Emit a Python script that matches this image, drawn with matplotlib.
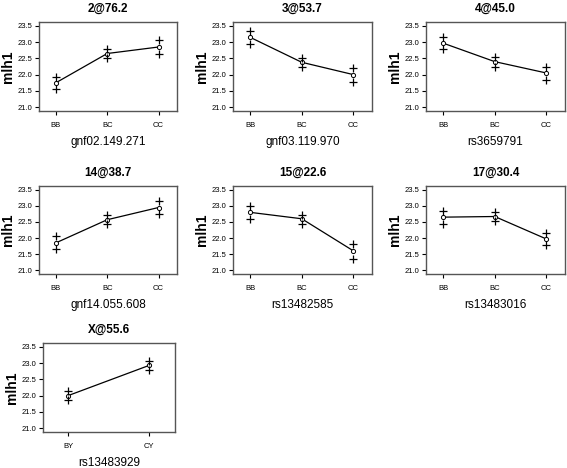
import matplotlib
matplotlib.use("Agg")
import matplotlib.pyplot as plt

plt.rcParams["font.family"] = ["Liberation Sans Narrow", "Liberation Sans", "DejaVu Sans"]

W, H = 567, 468

titles = ["2@76.2", "3@53.7", "4@45.0", "14@38.7", "15@22.6", "17@30.4", "X@55.6"]
markers = ["gnf02.149.271", "gnf03.119.970", "rs3659791",
           "gnf14.055.608", "rs13482585", "rs13483016", "rs13483929"]
genotypes = [["BB", "BC", "CC"]] * 6 + [["BY", "CY"]]

means = [
    [21.75, 22.65, 22.85],
    [23.15, 22.38, 22.00],
    [22.97, 22.40, 22.05],
    [21.85, 22.57, 22.95],
    [22.80, 22.60, 21.60],
    [22.65, 22.67, 21.97],
    [22.00, 22.93],
]
upper = [
    [21.93, 22.80, 23.07],
    [23.35, 22.52, 22.20],
    [23.17, 22.55, 22.25],
    [22.05, 22.72, 23.15],
    [23.00, 22.73, 21.82],
    [22.85, 22.82, 22.15],
    [22.15, 23.08],
]
lower = [
    [21.55, 22.52, 22.65],
    [22.95, 22.25, 21.78],
    [22.78, 22.25, 21.83],
    [21.65, 22.43, 22.75],
    [22.60, 22.45, 21.36],
    [22.45, 22.52, 21.77],
    [21.85, 22.80],
]

# panel boxes in pixels: left, right, top, bottom
boxes = [
    (39, 177, 22, 111), (233, 372, 22, 111), (426, 565, 22, 111),
    (39, 177, 186, 274), (233, 372, 186, 274), (426, 565, 186, 274),
    (43, 175, 343, 432),
]

fig = plt.figure(figsize=(W / 100, H / 100), dpi=100)

for i in range(len(titles)):
    l, r, t, b = boxes[i]
    ax = fig.add_axes([l / W, 1 - b / H, (r - l) / W, (b - t) / H])
    n = len(genotypes[i])
    x = list(range(1, n + 1))
    ax.plot(x, means[i], color="black", lw=0.9)
    ax.plot(x, means[i], "o", ms=3.0, mfc="white", mec="black", mew=0.7)
    ax.plot(x, upper[i], "+", ms=5.5, color="black", mew=0.9)
    ax.plot(x, lower[i], "+", ms=5.5, color="black", mew=0.9)
    if n == 3:
        ax.set_xlim(0.67, 3.36)
    else:
        ax.set_xlim(0.69, 2.32)
    ax.set_ylim(20.88, 23.62)
    ax.set_yticks([21.0, 21.5, 22.0, 22.5, 23.0, 23.5])
    ax.set_yticklabels(["21.0", "21.5", "22.0", "22.5", "23.0", "23.5"])
    ax.set_xticks(x)
    ax.set_xticklabels(genotypes[i])
    ax.tick_params(labelsize=5.5, length=3, width=0.8, pad=2, colors="black")
    ax.tick_params(axis="x", pad=5)
    for s in ax.spines.values():
        s.set_color("#555555")
        s.set_linewidth(1.0)
    ax.set_title(titles[i], fontsize=8.5, fontweight="bold", pad=7)
    ax.set_xlabel(markers[i], fontsize=8.5, labelpad=5)
    ax.set_ylabel("mlh1", fontsize=10, fontweight="bold")
    # right edge of the ylabel about 24 px left of the left spine
    ax.yaxis.set_label_coords(-24 / (r - l), 0.5)

fig.savefig("out.png", dpi=100)
